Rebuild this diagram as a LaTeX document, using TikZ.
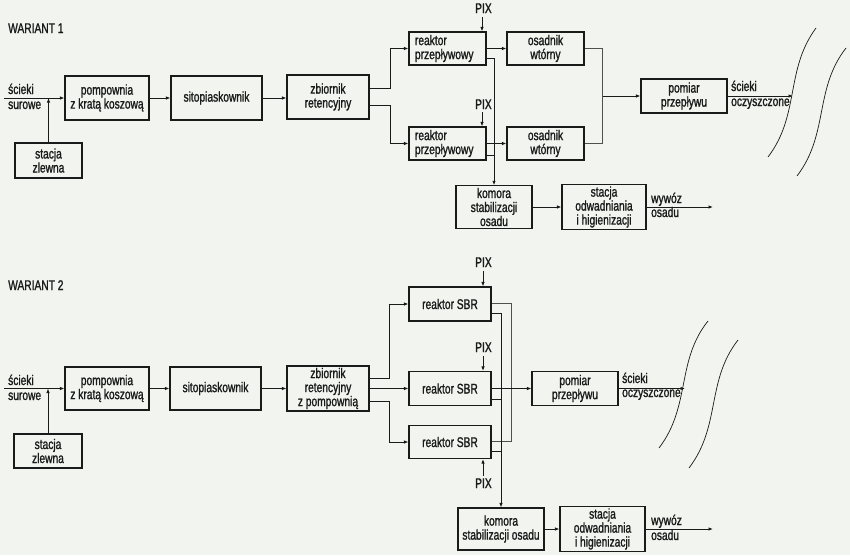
\documentclass[tikz,border=0pt]{standalone}
\usepackage{fontspec}
\setmainfont{Liberation Sans}[FakeStretch=0.73,FakeBold=1.2]
\usetikzlibrary{arrows.meta,calc}
\definecolor{bgc}{HTML}{F1F4EF}
\definecolor{ink}{HTML}{1A1A1A}
\definecolor{gline}{HTML}{505050}
\begin{document}
\begin{tikzpicture}[x=1pt,y=-1pt,
  every node/.style={font=\fontsize{14}{14}\selectfont, text=ink},
  box/.style={draw=ink, line width=1.1pt, align=center, inner sep=2pt},
  lbl/.style={anchor=west, inner sep=0pt, text height=8pt, text depth=2pt},
  conn/.style={draw=ink, line width=0.9pt},
  arr/.style={conn, -{Latex[length=4.5pt,width=3.5pt]}},
  wave/.style={draw=ink, line width=0.7pt}]
\fill[bgc] (0,0) rectangle (850,555);
\useasboundingbox (0,0) rectangle (850,555);

% ================= WARIANT 1 =================
\node[lbl] (w1) at (8,30) {WARIANT 1};
\node[box, minimum width=84pt, minimum height=44pt] (pomp1) at (107,98) {pompownia\\z kratą koszową};
\node[box, minimum width=91pt, minimum height=44pt] (sito1) at (216.5,98) {sitopiaskownik};
\node[box, minimum width=67pt, minimum height=35pt] (zlew1) at (48.5,160.5) {stacja\\zlewna};
\node[box, minimum width=82pt, minimum height=44pt] (zb1) at (328,97) {zbiornik\\retencyjny};
\node[box, minimum width=77pt, minimum height=33pt, align=left, text width=65pt] (r1a) at (447.5,48.5) {reaktor\\przepływowy};
\node[box, minimum width=77pt, minimum height=33pt, align=left, text width=65pt] (r1b) at (447.5,143.5) {reaktor\\przepływowy};
\node[box, minimum width=77pt, minimum height=33pt] (os1a) at (545.5,48.5) {osadnik\\wtórny};
\node[box, minimum width=77pt, minimum height=33pt] (os1b) at (545.5,143.5) {osadnik\\wtórny};
\node[box, minimum width=76pt, minimum height=42pt] (kom1) at (494,207) {komora\\stabilizacji\\osadu};
\node[box, minimum width=84pt, minimum height=42pt] (st1) at (604,207) {stacja\\odwadniania\\i higienizacji};
\node[box, minimum width=86pt, minimum height=34pt] (pom1) at (684,96) {pomiar\\przepływu};

\node[lbl] (pix1) at (475,10) {PIX};
\node[lbl] (pix2) at (475,106) {PIX};
\coordinate (pix1s) at (482,17);
\coordinate (pix2s) at (482,112);
\draw[arr] (pix1s) -- (pix1s |- r1a.north);
\draw[arr] (pix2s) -- (pix2s |- r1b.north);

\coordinate (in1) at (4,98);
\node[lbl] (sc1) at (8,91) {ścieki};
\node[lbl] (su1) at (8,106) {surowe};
\draw[arr] (in1) -- (pomp1.west);
\draw[arr] (zlew1.north) -- (zlew1.north |- pomp1.west);
\draw[arr] (pomp1) -- (sito1);
\draw[arr] (sito1) -- (sito1 -| zb1.west);
\draw[arr] ([yshift=9pt]zb1.east) -- ++(21,0) |- (r1a.west);
\draw[arr] ([yshift=-8pt]zb1.east) -- ++(21,0) |- (r1b.west);
\draw[arr] (r1a) -- (os1a);
\draw[arr] (r1b) -- (os1b);
\draw[arr] ([yshift=-9.5pt]r1a.east) -| (kom1.north);
\draw[conn] ([yshift=-11.5pt]r1b.east) -- ([yshift=-11.5pt]r1b.east -| kom1.north);
\draw[conn, draw=gline] (os1a.east) -- ++(18,0) coordinate (j1) |- (os1b.east);
\draw[arr] (j1 |- pom1.west) -- (pom1.west);
\coordinate (out1) at (793,96);
\draw[arr] (pom1.east) -- (out1);
\node[lbl] (sco1) at (731,88) {ścieki};
\node[lbl] (oc1) at (731,103) {oczyszczone};
\draw[arr] (kom1) -- (st1);
\coordinate (wy1) at (713,207);
\draw[arr] (st1.east) -- (wy1);
\node[lbl] (wyw1) at (651,200) {wywóz};
\node[lbl] (os1) at (651,214) {osadu};
\draw[wave] (768,157) .. controls (800,115) and (785,70) .. (816,28);
\draw[wave] (797,176) .. controls (829,134) and (814,89) .. (846,48);

% ================= WARIANT 2 =================
\node[lbl] (w2) at (8,287) {WARIANT 2};
\node[box, minimum width=84pt, minimum height=43pt] (pomp2) at (107,388.5) {pompownia\\z kratą koszową};
\node[box, minimum width=91pt, minimum height=43pt] (sito2) at (215.5,388.5) {sitopiaskownik};
\node[box, minimum width=68pt, minimum height=34pt] (zlew2) at (48,451) {stacja\\zlewna};
\node[box, minimum width=82pt, minimum height=43pt] (zb2) at (328,388.5) {zbiornik\\retencyjny\\z pompownią};
\node[box, minimum width=82pt, minimum height=34pt] (sbr1) at (450,304) {reaktor SBR};
\node[box, minimum width=82pt, minimum height=34pt] (sbr2) at (450,388.5) {reaktor SBR};
\node[box, minimum width=82pt, minimum height=33pt] (sbr3) at (450,442) {reaktor SBR};
\node[box, minimum width=86pt, minimum height=34pt] (pom2) at (575,388.5) {pomiar\\przepływu};
\node[box, minimum width=86pt, minimum height=42pt] (kom2) at (501,529) {komora\\stabilizacji osadu};
\node[box, minimum width=85pt, minimum height=42pt] (st2) at (602.5,529) {stacja\\odwadniania\\i higienizacji};

\node[lbl] (pix3) at (475,264) {PIX};
\node[lbl] (pix4) at (475,349) {PIX};
\node[lbl] (pix5) at (475,485) {PIX};
\coordinate (pix3s) at (483,271);
\coordinate (pix4s) at (483,356);
\coordinate (pix5n) at (483,476);
\draw[arr] (pix3s) -- (pix3s |- sbr1.north);
\draw[arr] (pix4s) -- (pix4s |- sbr2.north);
\draw[arr] (pix5n) -- (pix5n |- sbr3.south);

\coordinate (in2) at (4,388.5);
\node[lbl] (sc2) at (8,382) {ścieki};
\node[lbl] (su2) at (8,397) {surowe};
\draw[arr] (in2) -- (pomp2.west);
\draw[arr] (zlew2.north) -- (zlew2.north |- pomp2.west);
\draw[arr] (pomp2) -- (sito2);
\draw[arr] (sito2) -- (zb2);
\draw[arr] ([yshift=10.5pt]zb2.east) -- ++(20,0) |- (sbr1.west);
\draw[arr] (zb2) -- (sbr2);
\draw[arr] ([yshift=-12.5pt]zb2.east) -- ++(20,0) |- (sbr3.west);
\draw[conn, draw=gline] ([yshift=1pt]sbr1.east) -- ++(20,0) |- ([yshift=1pt]sbr3.east);
\draw[arr] ([yshift=-9pt]sbr1.east) -| (kom2.north);
\draw[conn] ([yshift=-10.5pt]sbr2.east) -- ([yshift=-10.5pt]sbr2.east -| kom2.north);
\draw[conn] ([yshift=-9pt]sbr3.east) -- ([yshift=-9pt]sbr3.east -| kom2.north);
\draw[arr] (sbr2) -- (pom2);
\coordinate (out2) at (685,388.5);
\draw[arr] (pom2.east) -- (out2);
\node[lbl] (sco2) at (622,380) {ścieki};
\node[lbl] (oc2) at (622,394) {oczyszczone};
\draw[arr] (kom2) -- (st2);
\coordinate (wy2) at (713,529);
\draw[arr] (st2.east) -- (wy2);
\node[lbl] (wyw2) at (651,522) {wywóz};
\node[lbl] (os2) at (651,537) {osadu};
\draw[wave] (659,448) .. controls (691,406) and (676,361) .. (708,321);
\draw[wave] (689,468) .. controls (721,426) and (706,381) .. (738,340);
\end{tikzpicture}
\end{document}
